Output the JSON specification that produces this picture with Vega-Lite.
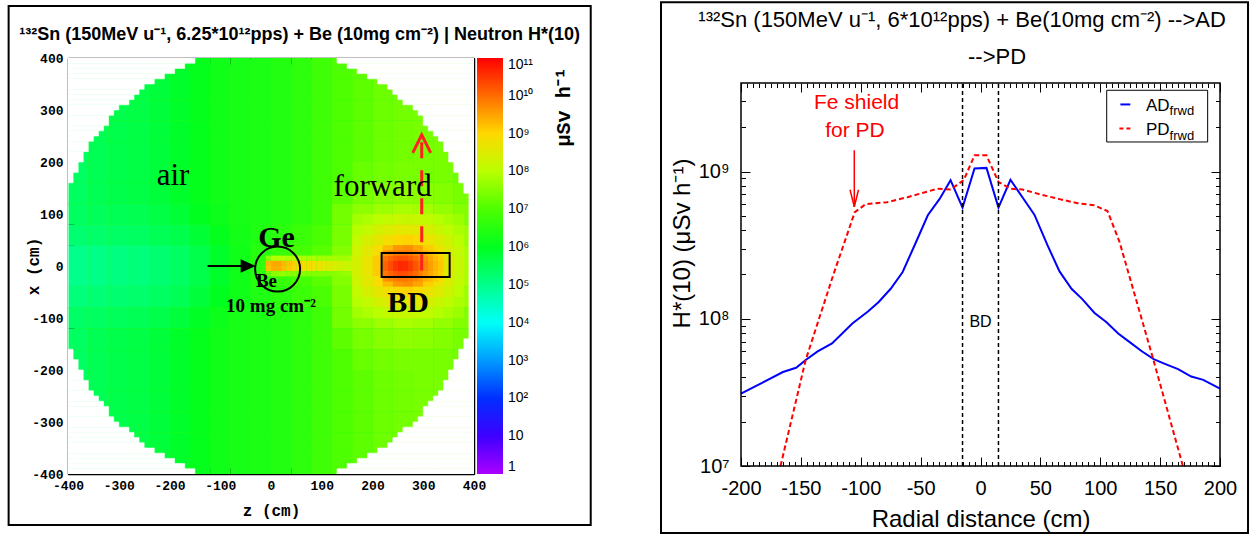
{
  "$schema": "https://vega.github.io/schema/vega-lite/v6.json",
  "background": "white",
  "padding": {"left": 7, "top": 1, "right": 2, "bottom": 0},
  "spacing": 68,
  "config": {
    "font": "Liberation Sans",
    "view": {"stroke": null},
    "axis": {"zindex": 1, "grid": false, "domainColor": "black", "tickColor": "black", "labelColor": "black", "titleColor": "black", "labelFlush": false, "labelOverlap": false, "labelBound": false}
  },
  "datasets": {
    "bulkCols": [
      {"k": "-400", "z0": -400, "z1": -360}, {"k": "-360", "z0": -360, "z1": -320}, {"k": "-320", "z0": -320, "z1": -280}, {"k": "-280", "z0": -280, "z1": -240},
      {"k": "-240", "z0": -240, "z1": -200}, {"k": "-200", "z0": -200, "z1": -160}, {"k": "-160", "z0": -160, "z1": -120}, {"k": "-120", "z0": -120, "z1": -80},
      {"k": "-80", "z0": -80, "z1": -40}, {"k": "-40", "z0": -40, "z1": 0}, {"k": "0", "z0": 0, "z1": 40}, {"k": "40", "z0": 40, "z1": 80},
      {"k": "80", "z0": 80, "z1": 120}, {"k": "120", "z0": 120, "z1": 160}, {"k": "160", "z0": 160, "z1": 200}, {"k": "200", "z0": 200, "z1": 240},
      {"k": "240", "z0": 240, "z1": 280}, {"k": "280", "z0": 280, "z1": 320}, {"k": "320", "z0": 320, "z1": 360}, {"k": "360", "z0": 360, "z1": 400}
    ],
    "beamCols": [
      {"k": "-20", "z0": -20, "z1": -10}, {"k": "-10", "z0": -10, "z1": 0}, {"k": "0", "z0": 0, "z1": 10}, {"k": "10", "z0": 10, "z1": 20},
      {"k": "20", "z0": 20, "z1": 30}, {"k": "30", "z0": 30, "z1": 40}, {"k": "40", "z0": 40, "z1": 50}, {"k": "50", "z0": 50, "z1": 60},
      {"k": "60", "z0": 60, "z1": 70}, {"k": "70", "z0": 70, "z1": 80}, {"k": "80", "z0": 80, "z1": 90}, {"k": "90", "z0": 90, "z1": 100},
      {"k": "100", "z0": 100, "z1": 110}, {"k": "110", "z0": 110, "z1": 120}, {"k": "120", "z0": 120, "z1": 130}, {"k": "130", "z0": 130, "z1": 140},
      {"k": "140", "z0": 140, "z1": 150}, {"k": "150", "z0": 150, "z1": 160}, {"k": "160", "z0": 160, "z1": 170}, {"k": "170", "z0": 170, "z1": 180},
      {"k": "180", "z0": 180, "z1": 190}, {"k": "190", "z0": 190, "z1": 200}
    ],
    "glowCols": [
      {"k": "160", "z0": 160, "z1": 180}, {"k": "180", "z0": 180, "z1": 200}, {"k": "200", "z0": 200, "z1": 220}, {"k": "220", "z0": 220, "z1": 240},
      {"k": "240", "z0": 240, "z1": 260}, {"k": "260", "z0": 260, "z1": 280}, {"k": "280", "z0": 280, "z1": 300}, {"k": "300", "z0": 300, "z1": 320},
      {"k": "320", "z0": 320, "z1": 340}, {"k": "340", "z0": 340, "z1": 360}, {"k": "360", "z0": 360, "z1": 380}
    ],
    "coreCols": [
      {"k": "220", "z0": 220, "z1": 230}, {"k": "230", "z0": 230, "z1": 240}, {"k": "240", "z0": 240, "z1": 250}, {"k": "250", "z0": 250, "z1": 260},
      {"k": "260", "z0": 260, "z1": 270}, {"k": "270", "z0": 270, "z1": 280}, {"k": "280", "z0": 280, "z1": 290}, {"k": "290", "z0": 290, "z1": 300},
      {"k": "300", "z0": 300, "z1": 310}, {"k": "310", "z0": 310, "z1": 320}, {"k": "320", "z0": 320, "z1": 330}, {"k": "330", "z0": 330, "z1": 340}
    ],
    "bulk": [
      {"x0": 360, "x1": 400, "-400": 5.4, "-360": 5.5, "-320": 5.6, "-280": 5.65, "-240": 5.75, "-200": 5.9, "-160": 6.05, "-120": 6.2, "-80": 6.3, "-40": 6.35, "0": 6.45, "40": 6.6, "80": 6.8, "120": 7.0, "160": 7.15, "200": 7.3, "240": 7.35, "280": 7.4, "320": 7.4, "360": 7.35},
      {"x0": 320, "x1": 360, "-400": 5.4, "-360": 5.5, "-320": 5.6, "-280": 5.65, "-240": 5.75, "-200": 5.9, "-160": 6.05, "-120": 6.2, "-80": 6.3, "-40": 6.35, "0": 6.45, "40": 6.6, "80": 6.8, "120": 7.0, "160": 7.15, "200": 7.3, "240": 7.35, "280": 7.4, "320": 7.4, "360": 7.35},
      {"x0": 280, "x1": 320, "-400": 5.4, "-360": 5.5, "-320": 5.6, "-280": 5.65, "-240": 5.75, "-200": 5.9, "-160": 6.05, "-120": 6.2, "-80": 6.3, "-40": 6.35, "0": 6.45, "40": 6.6, "80": 6.8, "120": 7.0, "160": 7.15, "200": 7.3, "240": 7.35, "280": 7.4, "320": 7.4, "360": 7.35},
      {"x0": 240, "x1": 280, "-400": 5.4, "-360": 5.5, "-320": 5.6, "-280": 5.65, "-240": 5.75, "-200": 5.9, "-160": 6.05, "-120": 6.2, "-80": 6.3, "-40": 6.35, "0": 6.45, "40": 6.6, "80": 6.8, "120": 7.0, "160": 7.15, "200": 7.3, "240": 7.35, "280": 7.4, "320": 7.4, "360": 7.35},
      {"x0": 200, "x1": 240, "-400": 5.4, "-360": 5.5, "-320": 5.6, "-280": 5.65, "-240": 5.75, "-200": 5.9, "-160": 6.05, "-120": 6.2, "-80": 6.3, "-40": 6.35, "0": 6.45, "40": 6.6, "80": 6.8, "120": 7.0, "160": 7.15, "200": 7.3, "240": 7.35, "280": 7.4, "320": 7.4, "360": 7.35},
      {"x0": 160, "x1": 200, "-400": 5.4, "-360": 5.5, "-320": 5.6, "-280": 5.65, "-240": 5.75, "-200": 5.9, "-160": 6.05, "-120": 6.2, "-80": 6.3, "-40": 6.35, "0": 6.45, "40": 6.6, "80": 6.8, "120": 7.0, "160": 7.25, "200": 7.35, "240": 7.4, "280": 7.4, "320": 7.4, "360": 7.35},
      {"x0": 120, "x1": 160, "-400": 5.4, "-360": 5.5, "-320": 5.6, "-280": 5.65, "-240": 5.75, "-200": 5.9, "-160": 6.05, "-120": 6.2, "-80": 6.3, "-40": 6.35, "0": 6.45, "40": 6.6, "80": 6.8, "120": 7.15, "160": 7.4, "200": 7.55, "240": 7.6, "280": 7.57, "320": 7.5, "360": 7.4},
      {"x0": 80, "x1": 120, "-400": 5.4, "-360": 5.45, "-320": 5.5, "-280": 5.55, "-240": 5.65, "-200": 5.8, "-160": 6.0, "-120": 6.15, "-80": 6.3, "-40": 6.35, "0": 6.45, "40": 6.6, "80": 6.8, "120": 7.35, "160": 7.6, "200": 7.75, "240": 7.85, "280": 7.8, "320": 7.65, "360": 7.5},
      {"x0": 40, "x1": 80, "-400": 5.25, "-360": 5.3, "-320": 5.35, "-280": 5.4, "-240": 5.5, "-200": 5.6, "-160": 5.8, "-120": 6.05, "-80": 6.25, "-40": 6.4, "0": 6.55, "40": 6.75, "80": 6.95, "120": 7.4, "160": 8.3, "200": 8.5, "240": 8.6, "280": 8.5, "320": 8.3, "360": 7.75},
      {"x0": 0, "x1": 40, "-400": 5.0, "-360": 5.05, "-320": 5.1, "-280": 5.15, "-240": 5.25, "-200": 5.4, "-160": 5.6, "-120": 5.9, "-80": 6.2, "-40": 6.5, "0": 6.7, "40": 6.9, "80": 7.1, "120": 7.5, "160": 8.4, "200": 8.9, "240": 9.3, "280": 9.0, "320": 8.6, "360": 7.9},
      {"x0": -40, "x1": 0, "-400": 5.0, "-360": 5.05, "-320": 5.1, "-280": 5.15, "-240": 5.25, "-200": 5.4, "-160": 5.6, "-120": 5.9, "-80": 6.2, "-40": 6.5, "0": 6.7, "40": 6.9, "80": 7.1, "120": 7.5, "160": 8.4, "200": 8.9, "240": 9.3, "280": 9.0, "320": 8.6, "360": 7.9},
      {"x0": -80, "x1": -40, "-400": 5.15, "-360": 5.2, "-320": 5.25, "-280": 5.3, "-240": 5.4, "-200": 5.5, "-160": 5.75, "-120": 6.0, "-80": 6.2, "-40": 6.4, "0": 6.55, "40": 6.75, "80": 6.95, "120": 7.4, "160": 8.3, "200": 8.5, "240": 8.6, "280": 8.5, "320": 8.3, "360": 7.75},
      {"x0": -120, "x1": -80, "-400": 5.35, "-360": 5.4, "-320": 5.45, "-280": 5.5, "-240": 5.6, "-200": 5.75, "-160": 5.95, "-120": 6.15, "-80": 6.3, "-40": 6.35, "0": 6.45, "40": 6.6, "80": 6.8, "120": 7.35, "160": 7.6, "200": 7.75, "240": 7.85, "280": 7.8, "320": 7.65, "360": 7.5},
      {"x0": -160, "x1": -120, "-400": 5.4, "-360": 5.5, "-320": 5.6, "-280": 5.65, "-240": 5.75, "-200": 5.9, "-160": 6.05, "-120": 6.2, "-80": 6.3, "-40": 6.35, "0": 6.45, "40": 6.6, "80": 6.8, "120": 7.15, "160": 7.4, "200": 7.55, "240": 7.6, "280": 7.57, "320": 7.5, "360": 7.4},
      {"x0": -200, "x1": -160, "-400": 5.4, "-360": 5.5, "-320": 5.6, "-280": 5.65, "-240": 5.75, "-200": 5.9, "-160": 6.05, "-120": 6.2, "-80": 6.3, "-40": 6.35, "0": 6.45, "40": 6.6, "80": 6.8, "120": 7.0, "160": 7.25, "200": 7.35, "240": 7.4, "280": 7.4, "320": 7.4, "360": 7.35},
      {"x0": -240, "x1": -200, "-400": 5.4, "-360": 5.5, "-320": 5.6, "-280": 5.65, "-240": 5.75, "-200": 5.9, "-160": 6.05, "-120": 6.2, "-80": 6.3, "-40": 6.35, "0": 6.45, "40": 6.6, "80": 6.8, "120": 7.0, "160": 7.15, "200": 7.3, "240": 7.35, "280": 7.4, "320": 7.4, "360": 7.35},
      {"x0": -280, "x1": -240, "-400": 5.4, "-360": 5.5, "-320": 5.6, "-280": 5.65, "-240": 5.75, "-200": 5.9, "-160": 6.05, "-120": 6.2, "-80": 6.3, "-40": 6.35, "0": 6.45, "40": 6.6, "80": 6.8, "120": 7.0, "160": 7.15, "200": 7.3, "240": 7.35, "280": 7.4, "320": 7.4, "360": 7.35},
      {"x0": -320, "x1": -280, "-400": 5.4, "-360": 5.5, "-320": 5.6, "-280": 5.65, "-240": 5.75, "-200": 5.9, "-160": 6.05, "-120": 6.2, "-80": 6.3, "-40": 6.35, "0": 6.45, "40": 6.6, "80": 6.8, "120": 7.0, "160": 7.15, "200": 7.3, "240": 7.35, "280": 7.4, "320": 7.4, "360": 7.35},
      {"x0": -360, "x1": -320, "-400": 5.4, "-360": 5.5, "-320": 5.6, "-280": 5.65, "-240": 5.75, "-200": 5.9, "-160": 6.05, "-120": 6.2, "-80": 6.3, "-40": 6.35, "0": 6.45, "40": 6.6, "80": 6.8, "120": 7.0, "160": 7.15, "200": 7.3, "240": 7.35, "280": 7.4, "320": 7.4, "360": 7.35},
      {"x0": -400, "x1": -360, "-400": 5.4, "-360": 5.5, "-320": 5.6, "-280": 5.65, "-240": 5.75, "-200": 5.9, "-160": 6.05, "-120": 6.2, "-80": 6.3, "-40": 6.35, "0": 6.45, "40": 6.6, "80": 6.8, "120": 7.0, "160": 7.15, "200": 7.3, "240": 7.35, "280": 7.4, "320": 7.4, "360": 7.35}
    ],
    "beam": [
      {"x0": 10, "x1": 20, "-20": 6.6, "-10": 7.6, "0": 8.0, "10": 8.0, "20": 8.0, "30": 7.95, "40": 7.9, "50": 7.9, "60": 7.9, "70": 7.85, "80": 7.85, "90": 7.8, "100": 7.8, "110": 7.8, "120": 7.8, "130": 7.8, "140": 7.8, "150": 7.85, "160": 7.9, "170": 7.95, "180": 8.0, "190": 8.05},
      {"x0": 0, "x1": 10, "-20": 6.7, "-10": 9.3, "0": 9.45, "10": 9.45, "20": 9.3, "30": 9.2, "40": 9.1, "50": 9.0, "60": 8.95, "70": 8.9, "80": 8.85, "90": 8.75, "100": 8.65, "110": 8.55, "120": 8.45, "130": 8.35, "140": 8.3, "150": 8.2, "160": 8.15, "170": 8.15, "180": 8.2, "190": 8.3},
      {"x0": -10, "x1": 0, "-20": 6.7, "-10": 9.2, "0": 9.4, "10": 9.4, "20": 9.25, "30": 9.15, "40": 9.05, "50": 8.95, "60": 8.9, "70": 8.85, "80": 8.8, "90": 8.7, "100": 8.6, "110": 8.5, "120": 8.4, "130": 8.3, "140": 8.25, "150": 8.15, "160": 8.1, "170": 8.1, "180": 8.15, "190": 8.25},
      {"x0": -20, "x1": -10, "-20": 6.55, "-10": 7.3, "0": 7.6, "10": 7.65, "20": 7.65, "30": 7.6, "40": 7.55, "50": 7.55, "60": 7.55, "70": 7.5, "80": 7.5, "90": 7.5, "100": 7.5, "110": 7.5, "120": 7.55, "130": 7.6, "140": 7.65, "150": 7.7, "160": 7.75, "170": 7.8, "180": 7.85, "190": 7.9}
    ],
    "glow": [
      {"x0": 80, "x1": 100, "160": 7.79, "180": 7.9, "200": 8.03, "220": 8.13, "240": 8.19, "260": 8.2, "280": 8.16, "300": 8.08, "320": 7.97, "340": 7.84, "360": 7.72},
      {"x0": 60, "x1": 80, "160": 7.95, "180": 8.13, "200": 8.33, "220": 8.49, "240": 8.58, "260": 8.6, "280": 8.54, "300": 8.42, "320": 8.22, "340": 8.04, "360": 7.87},
      {"x0": 40, "x1": 60, "160": 8.13, "180": 8.4, "200": 8.63, "220": 8.85, "240": 9.01, "260": 9.05, "280": 8.94, "300": 8.74, "320": 8.52, "340": 8.27, "360": 8.02},
      {"x0": 20, "x1": 40, "160": 8.29, "180": 8.59, "200": 8.91, "220": 9.28, "240": 9.61, "260": 9.69, "280": 9.47, "300": 9.09, "320": 8.74, "340": 8.45, "360": 8.14},
      {"x0": 0, "x1": 20, "160": 8.39, "180": 8.71, "200": 9.12, "220": 9.65, "240": 10.2, "260": 10.37, "280": 9.93, "300": 9.37, "320": 8.9, "340": 8.55, "360": 8.2},
      {"x0": -20, "x1": 0, "160": 8.39, "180": 8.71, "200": 9.12, "220": 9.65, "240": 10.2, "260": 10.37, "280": 9.93, "300": 9.37, "320": 8.9, "340": 8.55, "360": 8.2},
      {"x0": -40, "x1": -20, "160": 8.29, "180": 8.59, "200": 8.91, "220": 9.28, "240": 9.61, "260": 9.69, "280": 9.47, "300": 9.09, "320": 8.74, "340": 8.45, "360": 8.14},
      {"x0": -60, "x1": -40, "160": 8.13, "180": 8.4, "200": 8.63, "220": 8.85, "240": 9.01, "260": 9.05, "280": 8.94, "300": 8.74, "320": 8.52, "340": 8.27, "360": 8.02},
      {"x0": -80, "x1": -60, "160": 7.95, "180": 8.13, "200": 8.33, "220": 8.49, "240": 8.58, "260": 8.6, "280": 8.54, "300": 8.42, "320": 8.22, "340": 8.04, "360": 7.87},
      {"x0": -100, "x1": -80, "160": 7.79, "180": 7.9, "200": 8.03, "220": 8.13, "240": 8.19, "260": 8.2, "280": 8.16, "300": 8.08, "320": 7.97, "340": 7.84, "360": 7.72}
    ],
    "core": [
      {"x0": 20, "x1": 30, "220": 9.63, "230": 9.76, "240": 9.85, "250": 9.9, "260": 9.89, "270": 9.82, "280": 9.71, "290": 9.58, "300": 9.42, "310": 9.27, "320": 9.13, "330": 8.98},
      {"x0": 10, "x1": 20, "220": 9.9, "230": 10.08, "240": 10.22, "250": 10.3, "260": 10.27, "270": 10.17, "280": 10.02, "290": 9.82, "300": 9.63, "310": 9.44, "320": 9.25, "330": 9.09},
      {"x0": 0, "x1": 10, "220": 10.08, "230": 10.31, "240": 10.52, "250": 10.64, "260": 10.6, "270": 10.44, "280": 10.22, "290": 9.99, "300": 9.76, "310": 9.54, "320": 9.33, "330": 9.16},
      {"x0": -10, "x1": 0, "220": 10.08, "230": 10.31, "240": 10.52, "250": 10.64, "260": 10.6, "270": 10.44, "280": 10.22, "290": 9.99, "300": 9.76, "310": 9.54, "320": 9.33, "330": 9.16},
      {"x0": -20, "x1": -10, "220": 9.9, "230": 10.08, "240": 10.22, "250": 10.3, "260": 10.27, "270": 10.17, "280": 10.02, "290": 9.82, "300": 9.63, "310": 9.44, "320": 9.25, "330": 9.09},
      {"x0": -30, "x1": -20, "220": 9.63, "230": 9.76, "240": 9.85, "250": 9.9, "260": 9.89, "270": 9.82, "280": 9.71, "290": 9.58, "300": 9.42, "310": 9.27, "320": 9.13, "330": 8.98}
    ],
    "mask": [
      {"y0": 0, "y1": 140, "zl": -400, "zr": 390, "lo": -400, "hi": 400},
      {"y0": 140, "y1": 160, "zl": -400, "zr": 380, "lo": -400, "hi": 400},
      {"y0": 160, "y1": 180, "zl": -390, "zr": 370, "lo": -400, "hi": 400},
      {"y0": 180, "y1": 200, "zl": -380, "zr": 360, "lo": -400, "hi": 400},
      {"y0": 200, "y1": 220, "zl": -370, "zr": 350, "lo": -400, "hi": 400},
      {"y0": 220, "y1": 240, "zl": -360, "zr": 340, "lo": -400, "hi": 400},
      {"y0": 240, "y1": 250, "zl": -350, "zr": 330, "lo": -400, "hi": 400},
      {"y0": 250, "y1": 260, "zl": -340, "zr": 320, "lo": -400, "hi": 400},
      {"y0": 260, "y1": 270, "zl": -330, "zr": 310, "lo": -400, "hi": 400},
      {"y0": 270, "y1": 290, "zl": -320, "zr": 300, "lo": -400, "hi": 400},
      {"y0": 290, "y1": 300, "zl": -310, "zr": 290, "lo": -400, "hi": 400},
      {"y0": 300, "y1": 310, "zl": -300, "zr": 280, "lo": -400, "hi": 400},
      {"y0": 310, "y1": 320, "zl": -280, "zr": 260, "lo": -400, "hi": 400},
      {"y0": 320, "y1": 330, "zl": -270, "zr": 250, "lo": -400, "hi": 400},
      {"y0": 330, "y1": 340, "zl": -260, "zr": 240, "lo": -400, "hi": 400},
      {"y0": 340, "y1": 350, "zl": -250, "zr": 230, "lo": -400, "hi": 400},
      {"y0": 350, "y1": 360, "zl": -230, "zr": 210, "lo": -400, "hi": 400},
      {"y0": 360, "y1": 370, "zl": -210, "zr": 190, "lo": -400, "hi": 400},
      {"y0": 370, "y1": 380, "zl": -190, "zr": 170, "lo": -400, "hi": 400},
      {"y0": 380, "y1": 390, "zl": -170, "zr": 150, "lo": -400, "hi": 400},
      {"y0": 390, "y1": 400, "zl": -150, "zr": 130, "lo": -400, "hi": 400},
      {"y0": 0, "y1": -140, "zl": -400, "zr": 390, "lo": -400, "hi": 400},
      {"y0": -140, "y1": -160, "zl": -400, "zr": 380, "lo": -400, "hi": 400},
      {"y0": -160, "y1": -180, "zl": -390, "zr": 370, "lo": -400, "hi": 400},
      {"y0": -180, "y1": -200, "zl": -380, "zr": 360, "lo": -400, "hi": 400},
      {"y0": -200, "y1": -220, "zl": -370, "zr": 350, "lo": -400, "hi": 400},
      {"y0": -220, "y1": -240, "zl": -360, "zr": 340, "lo": -400, "hi": 400},
      {"y0": -240, "y1": -250, "zl": -350, "zr": 330, "lo": -400, "hi": 400},
      {"y0": -250, "y1": -260, "zl": -340, "zr": 320, "lo": -400, "hi": 400},
      {"y0": -260, "y1": -270, "zl": -330, "zr": 310, "lo": -400, "hi": 400},
      {"y0": -270, "y1": -290, "zl": -320, "zr": 300, "lo": -400, "hi": 400},
      {"y0": -290, "y1": -300, "zl": -310, "zr": 290, "lo": -400, "hi": 400},
      {"y0": -300, "y1": -310, "zl": -300, "zr": 280, "lo": -400, "hi": 400},
      {"y0": -310, "y1": -320, "zl": -280, "zr": 260, "lo": -400, "hi": 400},
      {"y0": -320, "y1": -330, "zl": -270, "zr": 250, "lo": -400, "hi": 400},
      {"y0": -330, "y1": -340, "zl": -260, "zr": 240, "lo": -400, "hi": 400},
      {"y0": -340, "y1": -350, "zl": -250, "zr": 230, "lo": -400, "hi": 400},
      {"y0": -350, "y1": -360, "zl": -230, "zr": 210, "lo": -400, "hi": 400},
      {"y0": -360, "y1": -370, "zl": -210, "zr": 190, "lo": -400, "hi": 400},
      {"y0": -370, "y1": -380, "zl": -190, "zr": 170, "lo": -400, "hi": 400},
      {"y0": -380, "y1": -390, "zl": -170, "zr": 150, "lo": -400, "hi": 400},
      {"y0": -390, "y1": -400, "zl": -150, "zr": 130, "lo": -400, "hi": 400}
    ],
    "ad": [
      {"r": -200, "h": 3.1e7}, {"r": -165, "h": 4.35e7}, {"r": -154, "h": 4.65e7}, {"r": -146, "h": 5.25e7}, {"r": -136, "h": 6.0e7},
      {"r": -124, "h": 6.8e7}, {"r": -107, "h": 9.3e7}, {"r": -94, "h": 1.12e8}, {"r": -85, "h": 1.3e8}, {"r": -75, "h": 1.6e8},
      {"r": -65, "h": 2.08e8}, {"r": -54, "h": 3.3e8}, {"r": -44, "h": 5.05e8}, {"r": -34, "h": 6.55e8}, {"r": -25, "h": 8.75e8},
      {"r": -15, "h": 5.7e8}, {"r": -5, "h": 1.05e9}, {"r": 5, "h": 1.06e9}, {"r": 15, "h": 5.7e8}, {"r": 25, "h": 8.8e8},
      {"r": 35, "h": 6.7e8}, {"r": 45, "h": 5.1e8}, {"r": 56, "h": 3.15e8}, {"r": 66, "h": 2.1e8}, {"r": 76, "h": 1.6e8},
      {"r": 85, "h": 1.36e8}, {"r": 95, "h": 1.1e8}, {"r": 105, "h": 9.5e7}, {"r": 115, "h": 7.95e7}, {"r": 124, "h": 7.0e7},
      {"r": 135, "h": 6.0e7}, {"r": 145, "h": 5.3e7}, {"r": 155, "h": 4.9e7}, {"r": 165, "h": 4.55e7}, {"r": 176, "h": 4.05e7},
      {"r": 186, "h": 3.85e7}, {"r": 200, "h": 3.35e7}
    ],
    "pd": [
      {"r": -167, "h": 1e7}, {"r": -146, "h": 5.25e7}, {"r": -123, "h": 1.98e8}, {"r": -105, "h": 5.3e8}, {"r": -96, "h": 6.0e8},
      {"r": -78, "h": 6.2e8}, {"r": -61, "h": 6.7e8}, {"r": -36, "h": 7.65e8}, {"r": -25, "h": 7.55e8}, {"r": -14, "h": 8.75e8},
      {"r": -5, "h": 1.29e9}, {"r": 5, "h": 1.29e9}, {"r": 15, "h": 8.5e8}, {"r": 25, "h": 7.65e8}, {"r": 35, "h": 7.55e8},
      {"r": 50, "h": 7.0e8}, {"r": 66, "h": 6.5e8}, {"r": 81, "h": 6.1e8}, {"r": 95, "h": 5.9e8}, {"r": 106, "h": 5.4e8},
      {"r": 116, "h": 3.35e8}, {"r": 144, "h": 5.4e7}, {"r": 169, "h": 1e7}
    ]
  },
  "hconcat": [
    {
      "width": 406,
      "height": 416,
      "view": {"fill": "#2aff10", "stroke": null},
      "resolve": {"axis": {"x": "independent", "y": "independent"}},
      "layer": [
        {
          "data": {"name": "bulk"},
          "transform": [
            {"fold": ["-400", "-360", "-320", "-280", "-240", "-200", "-160", "-120", "-80", "-40", "0", "40", "80", "120", "160", "200", "240", "280", "320", "360"], "as": ["k", "e"]},
            {"lookup": "k", "from": {"data": {"name": "bulkCols"}, "key": "k", "fields": ["z0", "z1"]}}
          ],
          "mark": {"type": "rect", "clip": true, "strokeWidth": 0},
          "encoding": {
            "x": {"field": "z0", "type": "quantitative", "scale": {"domain": [-400, 400], "nice": false, "zero": false},
              "axis": {"orient": "bottom", "values": [-400, -300, -200, -100, 0, 100, 200, 300, 400], "tickSize": -12, "tickWidth": 1, "labelPadding": 17, "labelExpr": "'' + datum.value", "labelFont": "Liberation Mono", "labelFontWeight": "bold", "labelFontSize": 13, "domain": true, "domainWidth": 1.5, "title": "z (cm)", "titleFont": "Liberation Mono", "titleFontWeight": "bold", "titleFontSize": 16, "titlePadding": 10}},
            "x2": {"field": "z1"},
            "y": {"field": "x0", "type": "quantitative", "scale": {"domain": [-400, 400], "nice": false, "zero": false},
              "axis": {"orient": "left", "values": [-400, -300, -200, -100, 0, 100, 200, 300, 400], "tickSize": -12, "tickWidth": 1, "labelPadding": 17, "labelExpr": "'' + datum.value", "labelFont": "Liberation Mono", "labelFontWeight": "bold", "labelFontSize": 13, "domain": true, "domainWidth": 1.5, "title": "x (cm)", "titleFont": "Liberation Mono", "titleFontWeight": "bold", "titleFontSize": 16, "titleX": -27}},
            "y2": {"field": "x1"},
            "color": {"field": "e", "type": "quantitative",
              "scale": {"domain": [0, 1, 2, 3, 4, 5, 6, 7, 8, 9, 10, 11], "range": ["#aa00ff", "#3e00ff", "#002eff", "#009bff", "#00fff8", "#00ff8b", "#00ff1f", "#4dff00", "#b9ff00", "#ffd800", "#ff6c00", "#ff0000"], "interpolate": "rgb"},
              "legend": {"type": "gradient", "direction": "vertical", "orient": "right", "offset": 2, "padding": 0, "gradientLength": 416, "gradientThickness": 26, "gradientStrokeWidth": 0, "values": [0, 1, 2, 3, 4, 5, 6, 7, 8, 9, 10, 11], "labelExpr": "datum.value == 0 ? '1' : datum.value == 1 ? '10' : '10' + ['', '', '²', '³', '⁴', '⁵', '⁶', '⁷', '⁸', '⁹', '¹⁰', '¹¹'][datum.value]", "labelFont": "Liberation Sans", "labelFontSize": 14, "labelColor": "black", "labelOffset": 5, "labelOverlap": false, "title": null}}
          }
        },
        {
          "data": {"name": "beam"},
          "transform": [
            {"fold": ["-20", "-10", "0", "10", "20", "30", "40", "50", "60", "70", "80", "90", "100", "110", "120", "130", "140", "150", "160", "170", "180", "190"], "as": ["k", "e"]},
            {"lookup": "k", "from": {"data": {"name": "beamCols"}, "key": "k", "fields": ["z0", "z1"]}}
          ],
          "mark": {"type": "rect", "clip": true, "strokeWidth": 0},
          "encoding": {
            "x": {"field": "z0", "type": "quantitative",
              "axis": {"orient": "bottom", "values": [-380, -360, -340, -320, -280, -260, -240, -220, -180, -160, -140, -120, -80, -60, -40, -20, 20, 40, 60, 80, 120, 140, 160, 180, 220, 240, 260, 280, 320, 340, 360, 380], "tickSize": -6, "tickWidth": 1, "labels": false, "domain": false, "title": null}},
            "x2": {"field": "z1"},
            "y": {"field": "x0", "type": "quantitative",
              "axis": {"orient": "left", "values": [-380, -360, -340, -320, -280, -260, -240, -220, -180, -160, -140, -120, -80, -60, -40, -20, 20, 40, 60, 80, 120, 140, 160, 180, 220, 240, 260, 280, 320, 340, 360, 380], "tickSize": -6, "tickWidth": 1, "labels": false, "domain": false, "title": null}},
            "y2": {"field": "x1"},
            "color": {"field": "e", "type": "quantitative"}
          }
        },
        {
          "data": {"name": "glow"},
          "transform": [
            {"fold": ["160", "180", "200", "220", "240", "260", "280", "300", "320", "340", "360"], "as": ["k", "e"]},
            {"lookup": "k", "from": {"data": {"name": "glowCols"}, "key": "k", "fields": ["z0", "z1"]}}
          ],
          "mark": {"type": "rect", "clip": true, "strokeWidth": 0},
          "encoding": {
            "x": {"field": "z0", "type": "quantitative",
              "axis": {"orient": "top", "values": [-400, -300, -200, -100, 0, 100, 200, 300, 400], "tickSize": -12, "tickWidth": 1, "labels": false, "domain": true, "domainWidth": 1.5, "title": null}},
            "x2": {"field": "z1"},
            "y": {"field": "x0", "type": "quantitative",
              "axis": {"orient": "right", "values": [-400, -300, -200, -100, 0, 100, 200, 300, 400], "tickSize": -12, "tickWidth": 1, "labels": false, "domain": true, "domainWidth": 1.5, "title": null}},
            "y2": {"field": "x1"},
            "color": {"field": "e", "type": "quantitative"}
          }
        },
        {
          "data": {"name": "core"},
          "transform": [
            {"fold": ["220", "230", "240", "250", "260", "270", "280", "290", "300", "310", "320", "330"], "as": ["k", "e"]},
            {"lookup": "k", "from": {"data": {"name": "coreCols"}, "key": "k", "fields": ["z0", "z1"]}}
          ],
          "mark": {"type": "rect", "clip": true, "strokeWidth": 0},
          "encoding": {
            "x": {"field": "z0", "type": "quantitative",
              "axis": {"orient": "top", "values": [-380, -360, -340, -320, -280, -260, -240, -220, -180, -160, -140, -120, -80, -60, -40, -20, 20, 40, 60, 80, 120, 140, 160, 180, 220, 240, 260, 280, 320, 340, 360, 380], "tickSize": -6, "tickWidth": 1, "labels": false, "domain": false, "title": null}},
            "x2": {"field": "z1"},
            "y": {"field": "x0", "type": "quantitative",
              "axis": {"orient": "right", "values": [-380, -360, -340, -320, -280, -260, -240, -220, -180, -160, -140, -120, -80, -60, -40, -20, 20, 40, 60, 80, 120, 140, 160, 180, 220, 240, 260, 280, 320, 340, 360, 380], "tickSize": -6, "tickWidth": 1, "labels": false, "domain": false, "title": null}},
            "y2": {"field": "x1"},
            "color": {"field": "e", "type": "quantitative"}
          }
        },
        {
          "data": {"name": "mask"},
          "mark": {"type": "rect", "clip": true, "fill": "white", "stroke": "white", "strokeWidth": 0.6},
          "encoding": {
            "x": {"field": "lo", "type": "quantitative", "axis": null},
            "x2": {"field": "zl"},
            "y": {"field": "y0", "type": "quantitative", "axis": null},
            "y2": {"field": "y1"}
          }
        },
        {
          "data": {"name": "mask"},
          "mark": {"type": "rect", "clip": true, "fill": "white", "stroke": "white", "strokeWidth": 0.6},
          "encoding": {
            "x": {"field": "zr", "type": "quantitative", "axis": null},
            "x2": {"field": "hi"},
            "y": {"field": "y0", "type": "quantitative", "axis": null},
            "y2": {"field": "y1"}
          }
        },
        {
          "data": {"values": [{"z": 13, "x": -6}]},
          "mark": {"type": "point", "shape": "circle", "filled": false, "color": "black", "strokeWidth": 2, "size": 2025, "opacity": 1},
          "encoding": {
            "x": {"field": "z", "type": "quantitative", "axis": null},
            "y": {"field": "x", "type": "quantitative", "axis": null}
          }
        },
        {
          "data": {"values": [{"z0": -125, "z1": -40, "x": 0}]},
          "mark": {"type": "rule", "color": "black", "strokeWidth": 2},
          "encoding": {
            "x": {"field": "z0", "type": "quantitative", "axis": null},
            "x2": {"field": "z1"},
            "y": {"field": "x", "type": "quantitative", "axis": null}
          }
        },
        {
          "data": {"values": [{"z": -45, "x": 0}]},
          "mark": {"type": "point", "shape": "M-1,-0.9L1,0L-1,0.9Z", "filled": true, "color": "black", "size": 225, "opacity": 1},
          "encoding": {
            "x": {"field": "z", "type": "quantitative", "axis": null},
            "y": {"field": "x", "type": "quantitative", "axis": null}
          }
        },
        {
          "data": {"values": [{"z": 297, "x0": -8, "x1": 246}]},
          "mark": {"type": "rule", "color": "#ff2020", "strokeWidth": 3, "strokeDash": [16, 12]},
          "encoding": {
            "x": {"field": "z", "type": "quantitative", "axis": null},
            "y": {"field": "x0", "type": "quantitative", "axis": null},
            "y2": {"field": "x1"}
          }
        },
        {
          "data": {"values": [{"z": 297, "x": 235}]},
          "mark": {"type": "point", "shape": "M-1,1L0,-1L1,1", "filled": false, "color": "#ff2020", "strokeWidth": 3, "size": 324, "opacity": 1},
          "encoding": {
            "x": {"field": "z", "type": "quantitative", "axis": null},
            "y": {"field": "x", "type": "quantitative", "axis": null}
          }
        },
        {
          "data": {"values": [{"z0": 218, "z1": 352, "x0": -21, "x1": 25}]},
          "mark": {"type": "rect", "filled": false, "color": "black", "strokeWidth": 2},
          "encoding": {
            "x": {"field": "z0", "type": "quantitative", "axis": null},
            "x2": {"field": "z1"},
            "y": {"field": "x0", "type": "quantitative", "axis": null},
            "y2": {"field": "x1"}
          }
        },
        {
          "data": {"values": [{"z": -193, "x": 156, "t": "air"}, {"z": 220, "x": 135, "t": "forward"}]},
          "mark": {"type": "text", "font": "Liberation Serif", "fontSize": 31, "align": "center", "baseline": "alphabetic", "color": "black"},
          "encoding": {
            "x": {"field": "z", "type": "quantitative", "axis": null},
            "y": {"field": "x", "type": "quantitative", "axis": null},
            "text": {"field": "t", "type": "nominal"}
          }
        },
        {
          "data": {"values": [{"z": 11, "x": 37, "t": "Ge"}, {"z": 270, "x": -88, "t": "BD"}]},
          "mark": {"type": "text", "font": "Liberation Serif", "fontWeight": "bold", "fontSize": 30, "align": "center", "baseline": "alphabetic", "color": "black"},
          "encoding": {
            "x": {"field": "z", "type": "quantitative", "axis": null},
            "y": {"field": "x", "type": "quantitative", "axis": null},
            "text": {"field": "t", "type": "nominal"}
          }
        },
        {
          "data": {"values": [{"z": -9, "x": -40, "t": "Be"}, {"z": 0, "x": -88, "t": "10 mg cm⁻²"}]},
          "mark": {"type": "text", "font": "Liberation Serif", "fontWeight": "bold", "fontSize": 19, "align": "center", "baseline": "alphabetic", "color": "black"},
          "encoding": {
            "x": {"field": "z", "type": "quantitative", "axis": null},
            "y": {"field": "x", "type": "quantitative", "axis": null},
            "text": {"field": "t", "type": "nominal"}
          }
        },
        {
          "data": {"values": [{"z": 56.5, "x": 434.6, "t": "¹³²Sn (150MeV u⁻¹, 6.25*10¹²pps) + Be (10mg cm⁻²) | Neutron H*(10)"}]},
          "mark": {"type": "text", "font": "Liberation Sans", "fontWeight": "bold", "fontSize": 18, "align": "center", "baseline": "alphabetic", "color": "black"},
          "encoding": {
            "x": {"field": "z", "type": "quantitative", "axis": null},
            "y": {"field": "x", "type": "quantitative", "axis": null},
            "text": {"field": "t", "type": "nominal"}
          }
        },
        {
          "data": {"values": [{"z": 577, "x": 306, "t": "μSv h⁻¹"}]},
          "mark": {"type": "text", "font": "Liberation Mono", "fontWeight": "bold", "fontSize": 20, "angle": 270, "align": "center", "baseline": "middle", "color": "black"},
          "encoding": {
            "x": {"field": "z", "type": "quantitative", "axis": null},
            "y": {"field": "x", "type": "quantitative", "axis": null},
            "text": {"field": "t", "type": "nominal"}
          }
        },
        {
          "data": {"values": [{"a": -517, "b": 630, "c": 500, "d": -498}]},
          "mark": {"type": "rect", "filled": false, "color": "black", "strokeWidth": 2, "clip": false},
          "encoding": {
            "x": {"field": "a", "type": "quantitative", "axis": null},
            "x2": {"field": "b"},
            "y": {"field": "c", "type": "quantitative", "axis": null},
            "y2": {"field": "d"}
          }
        }
      ]
    },
    {
      "width": 479,
      "height": 408,
      "resolve": {"axis": {"x": "independent", "y": "independent"}},
      "layer": [
        {
          "data": {"name": "ad"},
          "mark": {"type": "line", "color": "#0000ff", "strokeWidth": 2},
          "encoding": {
            "x": {"field": "r", "type": "quantitative", "scale": {"domain": [-200, 200], "nice": false, "zero": false},
              "axis": {"orient": "bottom", "values": [-200, -150, -100, -50, 0, 50, 100, 150, 200], "tickSize": -9, "tickWidth": 1, "labelPadding": 21, "labelExpr": "'' + datum.value", "labelFont": "Liberation Sans", "labelFontSize": 20, "domain": false, "title": "Radial distance (cm)", "titleFont": "Liberation Sans", "titleFontWeight": "normal", "titleFontSize": 24, "titlePadding": 9}},
            "y": {"field": "h", "type": "quantitative", "scale": {"type": "log", "domain": [1e7, 5.914e9], "nice": false},
              "axis": {"orient": "left", "values": [1e7, 1e8, 1e9], "tickSize": -9, "tickWidth": 1, "labelPadding": 21, "labelExpr": "datum.value < 5e7 ? '10⁷' : datum.value < 5e8 ? '10⁸' : '10⁹'", "labelFont": "Liberation Sans", "labelFontSize": 20, "domain": false, "title": "H*(10) (μSv h⁻¹)", "titleFont": "Liberation Sans", "titleFontWeight": "normal", "titleFontSize": 24, "titlePadding": 4, "titleY": 185}}
          }
        },
        {
          "data": {"name": "pd"},
          "mark": {"type": "line", "color": "#ff0000", "strokeWidth": 2, "strokeDash": [5, 3]},
          "encoding": {
            "x": {"field": "r", "type": "quantitative",
              "axis": {"orient": "bottom", "values": [-195, -190, -185, -180, -175, -170, -165, -160, -155, -145, -140, -135, -130, -125, -120, -115, -110, -105, -95, -90, -85, -80, -75, -70, -65, -60, -55, -45, -40, -35, -30, -25, -20, -15, -10, -5, 5, 10, 15, 20, 25, 30, 35, 40, 45, 55, 60, 65, 70, 75, 80, 85, 90, 95, 105, 110, 115, 120, 125, 130, 135, 140, 145, 155, 160, 165, 170, 175, 180, 185, 190, 195], "tickSize": -4.5, "tickWidth": 1, "labels": false, "domain": false, "title": null}},
            "y": {"field": "h", "type": "quantitative",
              "axis": {"orient": "left", "values": [2e7, 3e7, 4e7, 5e7, 6e7, 7e7, 8e7, 9e7, 2e8, 3e8, 4e8, 5e8, 6e8, 7e8, 8e8, 9e8, 2e9, 3e9], "tickSize": -4.5, "tickWidth": 1, "labels": false, "domain": false, "title": null}}
          }
        },
        {
          "data": {"values": [{"r": -15, "h0": 1e7, "h1": 4e9}, {"r": 15, "h0": 1e7, "h1": 4e9}]},
          "mark": {"type": "rule", "color": "black", "strokeWidth": 1.5, "strokeDash": [4, 3]},
          "encoding": {
            "x": {"field": "r", "type": "quantitative", "axis": null},
            "y": {"field": "h0", "type": "quantitative", "axis": null},
            "y2": {"field": "h1"}
          }
        },
        {
          "data": {"values": [{"r": 0, "h": 8.8e7, "t": "BD"}]},
          "mark": {"type": "text", "font": "Liberation Sans", "fontSize": 16, "align": "center", "baseline": "alphabetic", "color": "black"},
          "encoding": {
            "x": {"field": "r", "type": "quantitative",
              "axis": {"orient": "top", "offset": -25, "values": [-200, -150, -100, -50, 0, 50, 100, 150, 200], "tickSize": -9, "tickWidth": 1, "labels": false, "domain": false, "title": null}},
            "y": {"field": "h", "type": "quantitative",
              "axis": {"orient": "right", "values": [1e7, 1e8, 1e9], "tickSize": -9, "tickWidth": 1, "labels": false, "domain": false, "title": null}},
            "text": {"field": "t", "type": "nominal"}
          }
        },
        {
          "data": {"values": [{"r": -103.5, "h": 2.68e9, "t": "Fe shield"}, {"r": -104.8, "h": 1.72e9, "t": "for PD"}]},
          "mark": {"type": "text", "font": "Liberation Sans", "fontSize": 21, "align": "center", "baseline": "alphabetic", "color": "#ff0000"},
          "encoding": {
            "x": {"field": "r", "type": "quantitative",
              "axis": {"orient": "top", "offset": -25, "values": [-195, -190, -185, -180, -175, -170, -165, -160, -155, -145, -140, -135, -130, -125, -120, -115, -110, -105, -95, -90, -85, -80, -75, -70, -65, -60, -55, -45, -40, -35, -30, -25, -20, -15, -10, -5, 5, 10, 15, 20, 25, 30, 35, 40, 45, 55, 60, 65, 70, 75, 80, 85, 90, 95, 105, 110, 115, 120, 125, 130, 135, 140, 145, 155, 160, 165, 170, 175, 180, 185, 190, 195], "tickSize": -4.5, "tickWidth": 1, "labels": false, "domain": false, "title": null}},
            "y": {"field": "h", "type": "quantitative",
              "axis": {"orient": "right", "values": [2e7, 3e7, 4e7, 5e7, 6e7, 7e7, 8e7, 9e7, 2e8, 3e8, 4e8, 5e8, 6e8, 7e8, 8e8, 9e8, 2e9, 3e9], "tickSize": -4.5, "tickWidth": 1, "labels": false, "domain": false, "title": null}},
            "text": {"field": "t", "type": "nominal"}
          }
        },
        {
          "data": {"values": [{"r": -105.4, "h0": 1.397e9, "h1": 5.75e8}]},
          "mark": {"type": "rule", "color": "#ff0000", "strokeWidth": 1.5},
          "encoding": {
            "x": {"field": "r", "type": "quantitative", "axis": null},
            "y": {"field": "h0", "type": "quantitative", "axis": null},
            "y2": {"field": "h1"}
          }
        },
        {
          "data": {"values": [{"r": -105.4, "h": 6.59e8}]},
          "mark": {"type": "point", "shape": "M-0.5,-1L0,1L0.5,-1", "filled": false, "color": "#ff0000", "strokeWidth": 1.5, "size": 289, "opacity": 1},
          "encoding": {
            "x": {"field": "r", "type": "quantitative", "axis": null},
            "y": {"field": "h", "type": "quantitative", "axis": null}
          }
        },
        {
          "data": {"values": [{"r0": 105.4, "r1": 189.7, "h0": 1.59e9, "h1": 3.57e9}]},
          "mark": {"type": "rect", "fill": "white", "stroke": "black", "strokeWidth": 1},
          "encoding": {
            "x": {"field": "r0", "type": "quantitative", "axis": null},
            "x2": {"field": "r1"},
            "y": {"field": "h0", "type": "quantitative", "axis": null},
            "y2": {"field": "h1"}
          }
        },
        {
          "data": {"values": [{"r0": 116.8, "r1": 125.1, "h": 2.86e9}]},
          "mark": {"type": "rule", "color": "#0000ff", "strokeWidth": 2},
          "encoding": {
            "x": {"field": "r0", "type": "quantitative", "axis": null},
            "x2": {"field": "r1"},
            "y": {"field": "h", "type": "quantitative", "axis": null}
          }
        },
        {
          "data": {"values": [{"r0": 116.0, "r1": 126.0, "h": 1.96e9}]},
          "mark": {"type": "rule", "color": "#ff0000", "strokeWidth": 2, "strokeDash": [4, 3]},
          "encoding": {
            "x": {"field": "r0", "type": "quantitative", "axis": null},
            "x2": {"field": "r1"},
            "y": {"field": "h", "type": "quantitative", "axis": null}
          }
        },
        {
          "data": {"values": [{"r": 138.2, "h": 2.57e9, "t": "AD"}, {"r": 138.2, "h": 1.77e9, "t": "PD"}]},
          "mark": {"type": "text", "font": "Liberation Sans", "fontSize": 17, "align": "left", "baseline": "alphabetic", "color": "black"},
          "encoding": {
            "x": {"field": "r", "type": "quantitative", "axis": null},
            "y": {"field": "h", "type": "quantitative", "axis": null},
            "text": {"field": "t", "type": "nominal"}
          }
        },
        {
          "data": {"values": [{"r": 157.9, "h": 2.41e9, "t": "frwd"}, {"r": 157.9, "h": 1.65e9, "t": "frwd"}]},
          "mark": {"type": "text", "font": "Liberation Sans", "fontSize": 13, "align": "left", "baseline": "alphabetic", "color": "black"},
          "encoding": {
            "x": {"field": "r", "type": "quantitative", "axis": null},
            "y": {"field": "h", "type": "quantitative", "axis": null},
            "text": {"field": "t", "type": "nominal"}
          }
        },
        {
          "data": {"values": [{"r": -15.4, "h": 9.55e9, "t": "¹³²Sn (150MeV u⁻¹, 6*10¹²pps) + Be(10mg cm⁻²)  -->AD"}, {"r": 13.8, "h": 5.36e9, "t": "-->PD"}]},
          "mark": {"type": "text", "font": "Liberation Sans", "fontSize": 22, "align": "center", "baseline": "alphabetic", "color": "black", "clip": false},
          "encoding": {
            "x": {"field": "r", "type": "quantitative", "axis": null},
            "y": {"field": "h", "type": "quantitative", "axis": null},
            "text": {"field": "t", "type": "nominal"}
          }
        },
        {
          "data": {"values": [{"r0": -200, "r1": 200, "h0": 1e7, "h1": 4e9}]},
          "mark": {"type": "rect", "filled": false, "color": "black", "strokeWidth": 1.5, "clip": false},
          "encoding": {
            "x": {"field": "r0", "type": "quantitative", "axis": null},
            "x2": {"field": "r1"},
            "y": {"field": "h0", "type": "quantitative", "axis": null},
            "y2": {"field": "h1"}
          }
        },
        {
          "data": {"values": [{"a": -266.8, "b": 223.4, "c": 3.51e6, "d": 1.413e10}]},
          "mark": {"type": "rect", "filled": false, "color": "black", "strokeWidth": 2, "clip": false},
          "encoding": {
            "x": {"field": "a", "type": "quantitative", "axis": null},
            "x2": {"field": "b"},
            "y": {"field": "c", "type": "quantitative", "axis": null},
            "y2": {"field": "d"}
          }
        }
      ]
    }
  ],
  "resolve": {"scale": {"color": "independent"}, "legend": {"color": "independent"}}
}
